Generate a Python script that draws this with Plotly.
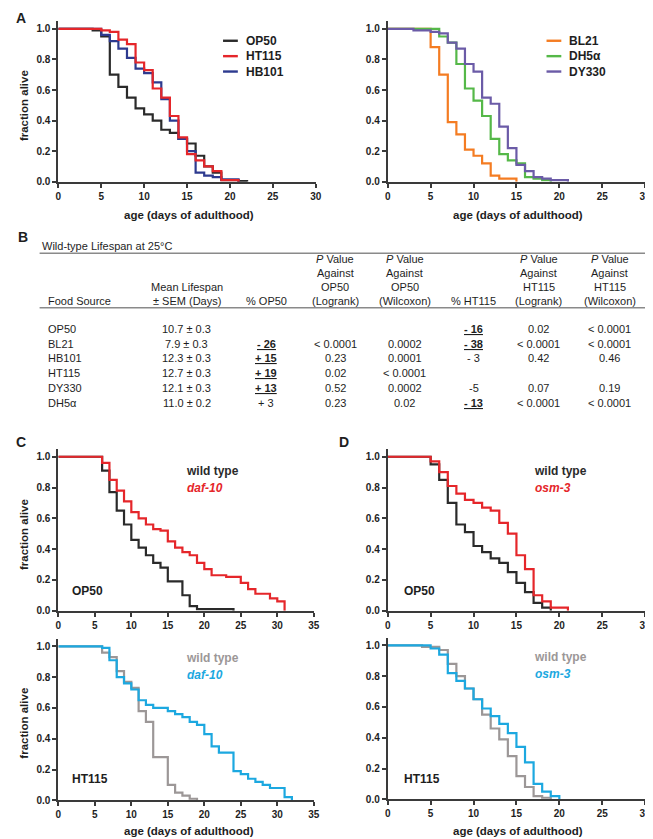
import plotly.graph_objects as go

W, H = 653, 839
FONT = "Liberation Sans, Arial, sans-serif"
AXIS_COLOR = "#3a3a3a"
TEXT_COLOR = "#1e1e1e"

# ---------------- data (fraction alive vs age, step curves) ----------------
# panel A left
a_op50_days = [0, 4, 5, 6, 7, 8, 9, 10, 11, 12, 13, 14, 15, 16, 17, 18, 19, 21, 22]
a_op50_alive = [1.0, 0.99, 0.95, 0.70, 0.62, 0.55, 0.48, 0.44, 0.40, 0.34, 0.32, 0.28, 0.25, 0.17, 0.10, 0.06, 0.01, 0.005, 0.0]
a_ht115_days = [0, 5, 6, 7, 8, 9, 10, 11, 12, 13, 14, 15, 16, 17, 18, 19, 21]
a_ht115_alive = [1.0, 0.99, 0.98, 0.93, 0.90, 0.78, 0.73, 0.61, 0.55, 0.43, 0.29, 0.18, 0.14, 0.10, 0.07, 0.01, 0.0]
a_hb101_days = [0, 5, 6, 7, 8, 9, 10, 11, 12, 13, 14, 15, 16, 17, 18, 19, 21]
a_hb101_alive = [1.0, 0.96, 0.92, 0.87, 0.81, 0.74, 0.71, 0.65, 0.54, 0.40, 0.28, 0.20, 0.06, 0.04, 0.03, 0.015, 0.0]

# panel A right
a_bl21_days = [0, 5, 6, 7, 8, 9, 10, 11, 12, 13, 15]
a_bl21_alive = [1.0, 0.88, 0.70, 0.39, 0.31, 0.21, 0.17, 0.12, 0.04, 0.02, 0.0]
a_dh5a_days = [0, 6, 7, 8, 9, 10, 11, 12, 13, 14, 15, 16, 17, 18, 19]
a_dh5a_alive = [1.0, 0.95, 0.91, 0.77, 0.61, 0.53, 0.43, 0.28, 0.18, 0.14, 0.12, 0.03, 0.02, 0.01, 0.0]
a_dy330_days = [0, 3, 5, 6, 7, 8, 9, 10, 11, 12, 13, 14, 15, 16, 17, 18, 19, 21]
a_dy330_alive = [1.0, 0.99, 0.98, 0.97, 0.91, 0.87, 0.77, 0.72, 0.55, 0.51, 0.36, 0.22, 0.11, 0.07, 0.03, 0.02, 0.01, 0.0]

# panel C (daf-10)
c_op50_wt_days = [0, 6, 7, 8, 9, 10, 11, 12, 13, 14, 15, 17, 18, 19, 24]
c_op50_wt_alive = [1.0, 0.91, 0.77, 0.65, 0.56, 0.46, 0.41, 0.36, 0.31, 0.28, 0.19, 0.10, 0.03, 0.01, 0.0]
c_op50_mut_days = [0, 6, 7, 8, 9, 10, 11, 12, 13, 14, 15, 16, 17, 18, 19, 20, 21, 23, 25, 26, 27, 29, 30, 31]
c_op50_mut_alive = [1.0, 0.96, 0.85, 0.78, 0.71, 0.64, 0.60, 0.56, 0.53, 0.52, 0.45, 0.41, 0.38, 0.36, 0.31, 0.27, 0.23, 0.22, 0.18, 0.14, 0.11, 0.08, 0.06, 0.0]
c_ht115_wt_days = [0, 6, 7, 8, 9, 10, 11, 12, 13, 15, 16, 17, 18, 19]
c_ht115_wt_alive = [1.0, 0.96, 0.93, 0.84, 0.77, 0.73, 0.58, 0.51, 0.28, 0.10, 0.05, 0.03, 0.01, 0.0]
c_ht115_mut_days = [0, 6, 7, 8, 9, 10, 11, 12, 13, 15, 16, 17, 18, 19, 20, 21, 22, 24, 25, 26, 27, 28, 29, 31, 32]
c_ht115_mut_alive = [1.0, 0.99, 0.91, 0.80, 0.76, 0.72, 0.65, 0.62, 0.60, 0.58, 0.56, 0.54, 0.51, 0.49, 0.43, 0.35, 0.31, 0.19, 0.17, 0.14, 0.12, 0.10, 0.08, 0.02, 0.0]

# panel D (osm-3)
d_op50_wt_days = [0, 5, 6, 7, 8, 9, 10, 11, 12, 13, 14, 15, 16, 17, 18, 19]
d_op50_wt_alive = [1.0, 0.95, 0.85, 0.70, 0.56, 0.51, 0.42, 0.38, 0.34, 0.31, 0.25, 0.18, 0.12, 0.05, 0.02, 0.0]
d_op50_mut_days = [0, 5, 6, 7, 8, 9, 10, 11, 12, 13, 14, 15, 16, 17, 18, 19, 21]
d_op50_mut_alive = [1.0, 0.97, 0.90, 0.81, 0.76, 0.72, 0.70, 0.67, 0.65, 0.57, 0.50, 0.36, 0.27, 0.10, 0.06, 0.02, 0.0]
d_ht115_wt_days = [0, 4, 6, 7, 8, 9, 10, 11, 12, 13, 14, 15, 16, 17, 18, 19]
d_ht115_wt_alive = [1.0, 0.99, 0.97, 0.88, 0.80, 0.72, 0.65, 0.55, 0.46, 0.39, 0.28, 0.15, 0.08, 0.02, 0.01, 0.0]
d_ht115_mut_days = [0, 5, 6, 7, 8, 9, 10, 11, 12, 13, 14, 15, 16, 17, 18, 19, 20]
d_ht115_mut_alive = [1.0, 0.98, 0.94, 0.82, 0.77, 0.72, 0.65, 0.59, 0.54, 0.49, 0.43, 0.34, 0.24, 0.10, 0.05, 0.02, 0.0]

# ---------------- table B ----------------
table_title = "Wild-type Lifespan at 25°C"
table_headers = [
    ["Food Source"],
    ["Mean Lifespan", "± SEM (Days)"],
    ["% OP50"],
    ["<i>P</i> Value", "Against", "OP50", "(Logrank)"],
    ["<i>P</i> Value", "Against", "OP50", "(Wilcoxon)"],
    ["% HT115"],
    ["<i>P</i> Value", "Against", "HT115", "(Logrank)"],
    ["<i>P</i> Value", "Against", "HT115", "(Wilcoxon)"],
]
food_source = ["OP50", "BL21", "HB101", "HT115", "DY330", "DH5α"]
mean_lifespan = ["10.7 ± 0.3", "7.9 ± 0.3", "12.3 ± 0.3", "12.7 ± 0.3", "12.1 ± 0.3", "11.0 ± 0.2"]
pct_op50 = ["", "- 26", "+ 15", "+ 19", "+ 13", "+ 3"]
pct_op50_sig = [False, True, True, True, True, False]
p_op50_logrank = ["", "< 0.0001", "0.23", "0.02", "0.52", "0.23"]
p_op50_wilcoxon = ["", "0.0002", "0.0001", "< 0.0001", "0.0002", "0.02"]
pct_ht115 = ["- 16", "- 38", "- 3", "", "-5", "- 13"]
pct_ht115_sig = [True, True, False, False, False, True]
p_ht115_logrank = ["0.02", "< 0.0001", "0.42", "", "0.07", "< 0.0001"]
p_ht115_wilcoxon = ["< 0.0001", "< 0.0001", "0.46", "", "0.19", "< 0.0001"]


def px_x(p):
    return p / W


def px_y(p):
    return 1 - p / H


# panel geometry in pixels: left, right, y of 1.0, y of 0.0, x max
panels = [
    (48, 309, 21, 175, 30),    # A left
    (382, 643, 21, 175, 30),   # A right
    (48, 307, 452, 607, 35),   # C top
    (48, 307, 643, 798, 35),   # C bottom
    (382, 643, 452, 607, 30),  # D top
    (382, 643, 642, 797, 30),  # D bottom
]

BLACK = "#2a2a2a"
RED = "#e5262a"
NAVY = "#2d3a8f"
ORANGE = "#f47c22"
GREEN = "#55b848"
PURPLE = "#6b5ba7"
GRAY = "#9c9797"
CYAN = "#1ca8e0"

series = [
    # panel index, days, alive, colour
    (0, a_op50_days, a_op50_alive, BLACK),
    (0, a_hb101_days, a_hb101_alive, NAVY),
    (0, a_ht115_days, a_ht115_alive, RED),
    (1, a_bl21_days, a_bl21_alive, ORANGE),
    (1, a_dh5a_days, a_dh5a_alive, GREEN),
    (1, a_dy330_days, a_dy330_alive, PURPLE),
    (2, c_op50_wt_days, c_op50_wt_alive, BLACK),
    (2, c_op50_mut_days, c_op50_mut_alive, RED),
    (3, c_ht115_wt_days, c_ht115_wt_alive, GRAY),
    (3, c_ht115_mut_days, c_ht115_mut_alive, CYAN),
    (4, d_op50_wt_days, d_op50_wt_alive, BLACK),
    (4, d_op50_mut_days, d_op50_mut_alive, RED),
    (5, d_ht115_wt_days, d_ht115_wt_alive, GRAY),
    (5, d_ht115_mut_days, d_ht115_mut_alive, CYAN),
]

fig = go.Figure()
for idx, days, alive, color in series:
    sfx = "" if idx == 0 else str(idx + 1)
    fig.add_trace(go.Scatter(
        x=days, y=alive, mode="lines", line=dict(color=color, width=2.2, shape="hv"),
        xaxis="x" + sfx, yaxis="y" + sfx, showlegend=False, hoverinfo="skip",
    ))

layout = dict(
    width=W, height=H, margin=dict(l=0, r=0, t=0, b=0),
    paper_bgcolor="white", plot_bgcolor="white", showlegend=False,
    font=dict(family=FONT, color=TEXT_COLOR),
)
tickfont = dict(family=FONT, size=10, color=TEXT_COLOR, weight="bold")
for i, (left, right, y1, y0, xmax) in enumerate(panels):
    sfx = "" if i == 0 else str(i + 1)
    top = y0 - 1.05 * (y0 - y1)
    layout["xaxis" + sfx] = dict(
        domain=[px_x(left), px_x(right)], range=[0, xmax], anchor="y" + sfx,
        tickvals=list(range(0, xmax + 1, 5)), showline=True, linecolor=AXIS_COLOR, linewidth=2,
        ticks="outside", ticklen=4, tickwidth=1.6, tickcolor=AXIS_COLOR,
        showgrid=False, zeroline=False, tickfont=tickfont,
    )
    layout["yaxis" + sfx] = dict(
        domain=[px_y(y0), px_y(top)], range=[0, 1.05], anchor="x" + sfx,
        tickvals=[0, 0.2, 0.4, 0.6, 0.8, 1.0], tickformat=".1f", showline=True,
        linecolor=AXIS_COLOR, linewidth=2, ticks="outside", ticklen=4, tickwidth=1.6,
        tickcolor=AXIS_COLOR, showgrid=False, zeroline=False, tickfont=tickfont,
    )
fig.update_layout(**layout)


def label(text, x, y, size=11, weight="normal", color=TEXT_COLOR, xanchor="center", angle=0):
    fig.add_annotation(
        text=text, x=px_x(x), y=px_y(y), xref="paper", yref="paper", showarrow=False,
        xanchor=xanchor, yanchor="middle", textangle=angle,
        font=dict(family=FONT, size=size, color=color, weight=weight),
    )


# panel letters
for letter, x, y in [("A", 10, 10), ("B", 12, 231), ("C", 10, 437), ("D", 338, 437)]:
    label(letter, x, y, size=14, weight="bold")

# axis titles
for y in [98, 530, 720]:
    label("fraction alive", 13, y, size=11.5, weight="bold", angle=-90)
for x, y in [(180, 208), (514, 208), (180, 829), (514, 829)]:
    label("age (days of adulthood)", x, y, size=11.5, weight="bold")

# legends of panel A
legend_a = [
    (215, [("OP50", BLACK), ("HT115", RED), ("HB101", NAVY)]),
    (543, [("BL21", ORANGE), ("DH5α", GREEN), ("DY330", PURPLE)]),
]
for x0, items in legend_a:
    for k, (name, color) in enumerate(items):
        y = 33 + 15.5 * k
        fig.add_shape(type="line", xref="paper", yref="paper",
                      x0=px_x(x0), x1=px_x(x0 + 15), y0=px_y(y), y1=px_y(y),
                      line=dict(color=color, width=2.4))
        label(name, x0 + 21, y, size=12, weight="bold", xanchor="left")

# legends of panels C / D
cd_labels = [
    (175, 466, "wild type", BLACK, "<i>daf-10</i>", RED, 587, "OP50", 60),
    (175, 655, "wild type", GRAY, "<i>daf-10</i>", CYAN, 777, "HT115", 60),
    (528, 466, "wild type", BLACK, "<i>osm-3</i>", RED, 587, "OP50", 396),
    (528, 654, "wild type", GRAY, "<i>osm-3</i>", CYAN, 777, "HT115", 396),
]
for x, y, wt, wt_col, mut, mut_col, fy, food, fx in cd_labels:
    label(wt, x, y, size=12, weight="bold", color=wt_col, xanchor="left")
    label(mut, x + 1, y + 17, size=12, weight="bold", color=mut_col, xanchor="left")
    label(food, fx, fy, size=12, weight="bold", xanchor="left")

# ---------------- table B ----------------
label(table_title, 29, 240, size=11, xanchor="left")
for yl in [247, 302]:
    fig.add_shape(type="line", xref="paper", yref="paper",
                  x0=px_x(29), x1=px_x(643), y0=px_y(yl), y1=px_y(yl),
                  line=dict(color="#8a8a8a", width=1.5))

col_x = [35, 178, 259, 329, 399, 469, 535, 607]
for c, lines in enumerate(table_headers):
    n = len(lines)
    for k, line_text in enumerate(lines):
        y = 295 - 14 * (n - 1 - k)
        label(line_text, col_x[c], y, size=11, xanchor="left" if c == 0 else "center")


def fmt_sig(v, sig):
    return "<u>" + v + "</u>" if sig and v else v


columns = [
    food_source, mean_lifespan,
    [fmt_sig(v, s) for v, s in zip(pct_op50, pct_op50_sig)],
    p_op50_logrank, p_op50_wilcoxon,
    [fmt_sig(v, s) for v, s in zip(pct_ht115, pct_ht115_sig)],
    p_ht115_logrank, p_ht115_wilcoxon,
]
bold_cols = {2: pct_op50_sig, 5: pct_ht115_sig}
for c, col in enumerate(columns):
    for r, v in enumerate(col):
        if not v:
            continue
        y = 323 + 15 * r
        w = "bold" if c in bold_cols and bold_cols[c][r] else "normal"
        label(v, col_x[c], y, size=11, weight=w, xanchor="left" if c == 0 else "center")

fig.write_html("out.html")
